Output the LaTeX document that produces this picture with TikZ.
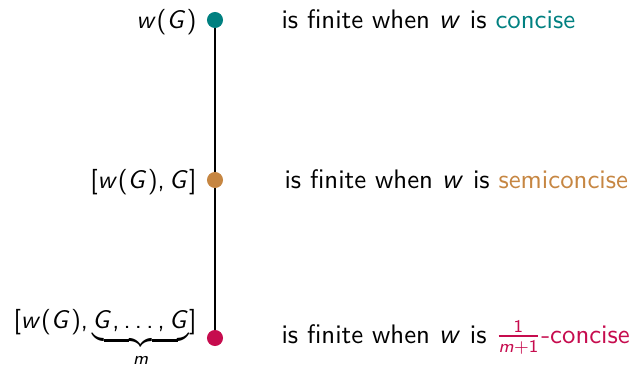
\documentclass[tikz,border=0pt]{standalone}
\usepackage{amsmath}
\usepackage{xcolor}
\usetikzlibrary{backgrounds}
% sans serif math letters and symbols
\DeclareSymbolFont{operators}{OT1}{cmss}{m}{n}
\DeclareSymbolFont{letters}{OT1}{cmss}{m}{sl}
\DeclareMathSymbol{,}{\mathpunct}{operators}{"2C}
\DeclareMathSymbol{\ldotp}{\mathpunct}{operators}{"2E}
\definecolor{conc}{RGB}{0,128,128}
\definecolor{semi}{RGB}{198,134,66}
\definecolor{frac}{RGB}{198,12,78}
\begin{document}
\begin{tikzpicture}[
    x=0.01378cm, y=-0.01378cm,
    font=\sffamily\fontsize{10.5}{13}\selectfont,
    dot/.style={circle, inner sep=0pt, minimum size=6.3pt},
    lhs/.style={anchor=base east, inner sep=0pt,
                font=\sffamily\fontsize{10}{12}\selectfont},
    rhs/.style={anchor=base west, inner sep=0pt}
]
\useasboundingbox (0,0) rectangle (631,367);
\node[dot, fill=conc] (d1) at (215, 20)  {};
\node[dot, fill=semi] (d2) at (215, 180) {};
\node[dot, fill=frac] (d3) at (215, 338) {};
\begin{scope}[on background layer]
\draw (d1.center) -- (d3.center);
\end{scope}
% left labels
\node[lhs] (l1) at (197, 28)  {$w(G)$};
\node[lhs] (l2) at (197, 188) {$[w(G),G]$};
\node[lhs] (l3) at (197, 328) {$[w(G),\underbrace{G,\dots,G}_{m}]$};
% right labels
\node[rhs] (r1) at (281, 28)  {is finite when $w$ is \textcolor{conc}{concise}};
\node[rhs] (r2) at (284, 188) {is finite when $w$ is \textcolor{semi}{semiconcise}};
\node[rhs] (r3) at (281, 343) {is finite when $w$ is \textcolor{frac}{$\frac{1}{m+1}$-concise}};
\end{tikzpicture}
\end{document}
